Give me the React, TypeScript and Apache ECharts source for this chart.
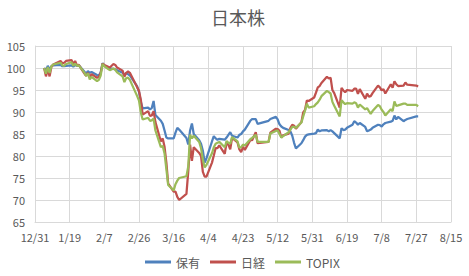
import React, { useEffect, useRef } from "react";
import * as echarts from "echarts";

// Trading dates of 2020 (first entry = base day, index 100)
const dates: string[] = [
  "1/5","1/6","1/7","1/8","1/9","1/10","1/14","1/15","1/16","1/17","1/20","1/21","1/22","1/23","1/24","1/27","1/28","1/29","1/30","1/31",
  "2/3","2/4","2/5","2/6","2/7","2/10","2/12","2/13","2/14","2/17","2/18","2/19","2/20","2/21","2/25","2/26","2/27","2/28",
  "3/2","3/3","3/4","3/5","3/6","3/9","3/10","3/11","3/12","3/13","3/16","3/17","3/18","3/19","3/23","3/24","3/25","3/26","3/27","3/30","3/31",
  "4/1","4/2","4/3","4/6","4/7","4/8","4/9","4/10","4/13","4/14","4/15","4/16","4/17","4/20","4/21","4/22","4/23","4/24","4/27","4/28","4/30",
  "5/1","5/7","5/8","5/11","5/12","5/13","5/14","5/15","5/18","5/19","5/20","5/21","5/22","5/25","5/26","5/27","5/28","5/29",
  "6/1","6/2","6/3","6/4","6/5","6/8","6/9","6/10","6/11","6/12","6/15","6/16","6/17","6/18","6/19","6/22","6/23","6/24","6/25","6/26","6/29","6/30",
  "7/1","7/2","7/3","7/6","7/7","7/8","7/9","7/10","7/13","7/14","7/15","7/16","7/17","7/20","7/21","7/22","7/27","7/28",
];

const hoyu: number[] = [
  100, 99.4, 100.5, 99.6, 100.4, 100.6, 100.7, 100.4, 100.4, 100.5, 100.6, 100.3, 100.7, 100.5, 100.6, 99.2, 98.7, 99.3, 98.9, 99.1,
  98.4, 98.3, 99.0, 101.1, 100.6, 99.9, 99.8, 99.7, 99.5, 98.9, 98.5, 98.8, 98.6, 98.3, 95.8, 94.6, 92.3, 90.8,
  91.0, 90.6, 90.9, 92.5, 89.3, 88.0, 87.3, 85.8, 84.2, 84.0, 84.0, 85.3, 86.4, 86.0, 84.1, 82.6, 85.8, 87.4, 85.0, 83.6, 82.8,
  81.2, 78.5, 79.5, 83.3, 84.5, 84.0, 83.7, 83.9, 83.7, 84.2, 84.8, 85.4, 84.6, 84.2, 84.8, 85.0, 85.6, 86.0, 88.0, 88.4, 88.4,
  87.3, 88.0, 88.4, 88.9, 88.3, 87.2, 86.7, 86.4, 85.9, 85.6, 84.6, 83.0, 81.7, 82.9, 83.6, 84.4, 84.8, 84.9,
  85.1, 85.2, 86.0, 85.6, 85.8, 85.9, 85.6, 85.9, 85.6, 85.2, 84.0, 86.3, 85.9, 86.0, 86.4, 87.1, 87.9, 87.6, 87.1, 87.5, 86.6, 85.6,
  85.8, 86.0, 86.4, 87.1, 87.0, 86.7, 87.2, 87.5, 87.8, 88.0, 89.2, 88.3, 88.9, 87.9, 88.2, 88.4, 89.0, 89.0,
];

const nikkei: number[] = [
  100, 98.1, 99.7, 98.1, 100.3, 100.8, 101.6, 101.1, 101.2, 101.6, 101.8, 100.9, 101.6, 100.6, 100.7, 98.8, 98.2, 98.9, 97.9, 98.6,
  97.8, 98.0, 98.8, 101.0, 100.7, 100.1, 100.9, 100.7, 100.1, 99.4, 98.0, 98.9, 99.2, 98.9, 95.6, 94.8, 92.8, 89.4,
  90.2, 89.1, 89.2, 90.2, 87.7, 83.3, 84.0, 82.1, 78.5, 73.7, 71.9, 71.9, 70.7, 70.0, 71.4, 76.5, 82.6, 78.9, 82.0, 80.7, 80.0,
  76.4, 75.3, 75.3, 78.5, 80.1, 81.8, 81.8, 82.4, 80.5, 83.0, 82.6, 81.5, 84.1, 83.1, 81.5, 80.9, 82.1, 81.4, 83.6, 83.6, 85.4,
  82.9, 83.2, 85.3, 86.2, 86.1, 85.7, 84.2, 84.7, 85.1, 86.4, 87.1, 86.9, 86.2, 87.7, 89.9, 90.5, 92.6, 92.5,
  93.3, 94.4, 95.6, 95.9, 96.6, 98.0, 97.6, 97.8, 95.0, 94.3, 91.0, 95.5, 94.9, 94.5, 95.0, 94.8, 95.3, 95.3, 94.1, 95.2, 93.0, 94.2,
  93.5, 93.6, 94.3, 96.0, 95.6, 94.9, 95.2, 94.2, 96.3, 95.5, 97.0, 96.3, 95.9, 96.0, 96.7, 96.2, 96.0, 95.8,
];

const topix: number[] = [
  100, 98.7, 100.2, 98.9, 100.4, 100.8, 101.2, 100.6, 100.5, 100.9, 101.3, 100.5, 101.0, 100.5, 100.6, 99.0, 98.2, 98.8, 97.4, 98.0,
  97.0, 97.3, 98.3, 100.9, 100.4, 99.5, 99.9, 99.6, 99.0, 98.1, 96.8, 97.7, 97.8, 97.3, 93.6, 92.6, 89.9, 88.3,
  88.7, 88.0, 88.1, 88.5, 85.8, 82.0, 82.3, 80.6, 77.0, 73.4, 72.2, 73.6, 74.4, 75.0, 75.4, 77.6, 84.8, 84.0, 84.6, 83.2, 81.8,
  79.2, 77.4, 78.0, 80.6, 82.0, 82.8, 83.0, 83.2, 82.0, 83.4, 83.0, 82.8, 84.3, 83.3, 81.9, 82.0, 82.6, 82.4, 83.8, 84.1, 84.8,
  83.2, 83.2, 85.1, 85.7, 85.8, 85.0, 84.2, 84.5, 85.4, 86.0, 86.6, 86.6, 86.4, 87.6, 89.0, 90.3, 91.9, 91.0,
  91.3, 91.8, 92.2, 92.8, 93.6, 94.8, 94.5, 94.2, 92.3, 91.4, 89.0, 92.7, 92.2, 91.8, 92.0, 91.9, 92.2, 92.0, 91.0, 91.7, 90.6, 90.9,
  90.2, 89.6, 90.2, 91.6, 91.3, 90.5, 90.0, 89.2, 90.6, 90.2, 92.4, 91.4, 91.5, 91.9, 91.9, 91.6, 91.6, 91.3,
];

const seriesNames = ["保有", "日経", "TOPIX"];
const seriesColors = ["#4F81BD", "#C0504D", "#9BBB59"];
const titleText = "日本株";

const YEAR = 2020;
const BASE = Date.UTC(2019, 11, 31);
const DAY_MS = 86400000;

function dayOf(md: string): number {
  const [m, d] = md.split("/").map(Number);
  return (Date.UTC(YEAR, m - 1, d) - BASE) / DAY_MS;
}
function labelOf(day: number): string {
  const dt = new Date(BASE + day * DAY_MS);
  return `${dt.getUTCMonth() + 1}/${dt.getUTCDate()}`;
}

export default function App() {
  const ref = useRef<HTMLDivElement>(null);
  useEffect(() => {
    if (!ref.current) return;
    const chart = echarts.init(ref.current, undefined, { renderer: "svg" });
    const font = "'Noto Sans CJK JP', 'Noto Sans', sans-serif";
    const mk = (vals: number[]) => dates.map((d, i) => [dayOf(d), vals[i]]);
    const allVals = [hoyu, nikkei, topix];
    chart.setOption({
      animation: false,
      backgroundColor: "#ffffff",
      color: seriesColors,
      textStyle: { fontFamily: font },
      title: {
        text: titleText,
        left: 211,
        top: 8,
        padding: 0,
        textStyle: { fontSize: 18, fontWeight: "normal", color: "#595959", fontFamily: font },
      },
      legend: {
        data: seriesNames,
        left: 145,
        top: 256,
        padding: 0,
        itemGap: 10,
        icon: "rect",
        itemWidth: 26,
        itemHeight: 3,
        textStyle: { fontSize: 12, color: "#595959", fontFamily: font },
      },
      grid: { left: 35, right: 18, top: 46, bottom: 54, containLabel: false },
      xAxis: {
        type: "value",
        min: 0,
        max: 228,
        interval: 19,
        axisLine: { show: true, lineStyle: { color: "#d9d9d9", width: 1 } },
        axisTick: { show: false },
        splitLine: { show: true, lineStyle: { color: "#d9d9d9", width: 1 } },
        axisLabel: {
          formatter: (v: number) => labelOf(v),
          color: "#595959",
          fontSize: 11,
          margin: 9,
          fontFamily: font,
          showMinLabel: true,
          showMaxLabel: true,
        },
      },
      yAxis: {
        type: "value",
        min: 65,
        max: 105,
        interval: 5,
        axisLine: { show: true, lineStyle: { color: "#d9d9d9", width: 1 } },
        axisTick: { show: false },
        splitLine: { show: true, lineStyle: { color: "#d9d9d9", width: 1 } },
        axisLabel: { color: "#595959", fontSize: 11, margin: 10, fontFamily: font },
      },
      series: seriesNames.map((name, i) => ({
        name,
        type: "line",
        data: mk(allVals[i]),
        showSymbol: false,
        symbol: "none",
        lineStyle: { width: 2.25, color: seriesColors[i] },
        itemStyle: { color: seriesColors[i] },
      })),
    });
    return () => chart.dispose();
  }, []);
  return (
    <div
      ref={ref}
      style={{ position: "fixed", left: 0, top: 0, width: 469, height: 276, background: "#fff" }}
    />
  );
}
